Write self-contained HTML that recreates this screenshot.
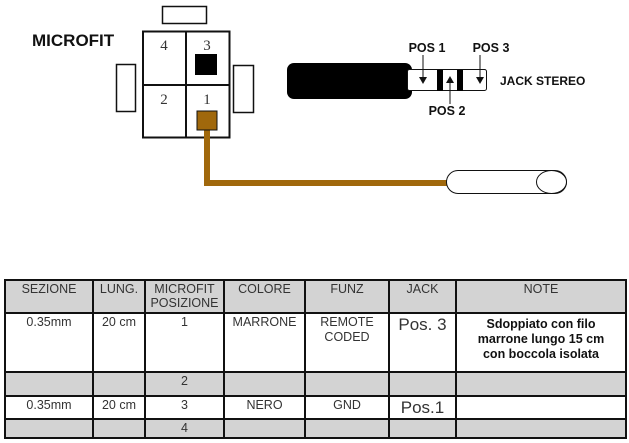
<!DOCTYPE html>
<html><head><style>
body{margin:0;width:629px;height:443px;background:#fff;position:relative;overflow:hidden;font-family:"Liberation Sans",sans-serif}
.a{position:absolute}
table{position:absolute;left:4px;top:279px;border-collapse:collapse;table-layout:fixed;font-size:12.5px;color:#333}
td{border:2px solid #111;text-align:center;vertical-align:top;padding:1px 0 0 0;line-height:15px;overflow:hidden}
.g td{background:#d3d3d3}
</style></head><body>
<svg class="a" style="left:0;top:0" width="629" height="270">
<text x="32" y="46" font-family="Liberation Sans" font-weight="bold" font-size="17" fill="#111">MICROFIT</text>
<rect x="162.5" y="6.5" width="44" height="17" fill="#fff" stroke="#111" stroke-width="1.5"/>
<rect x="116.5" y="64.5" width="19" height="47" fill="#fff" stroke="#111" stroke-width="1.5"/>
<rect x="233.5" y="65.5" width="20" height="47" fill="#fff" stroke="#111" stroke-width="1.5"/>
<rect x="143" y="31.5" width="86.5" height="106" fill="#fff" stroke="#111" stroke-width="2"/>
<line x1="186" y1="31" x2="186" y2="138" stroke="#111" stroke-width="2"/>
<line x1="143" y1="85" x2="230" y2="85" stroke="#111" stroke-width="2"/>
<g font-family="Liberation Serif" font-size="15" fill="#333" text-anchor="middle">
<text x="164" y="50">4</text><text x="207" y="50">3</text><text x="164" y="104">2</text><text x="207" y="104">1</text></g>
<rect x="195" y="54" width="22" height="21" fill="#000"/>
<polyline points="207,128 207,183 450,183" fill="none" stroke="#a0680c" stroke-width="6"/>
<rect x="197" y="111" width="20" height="19" fill="#a0680c" stroke="#111" stroke-width="1"/>
<rect x="446.5" y="170.5" width="120" height="23" rx="11.5" fill="#fff" stroke="#111" stroke-width="1"/>
<ellipse cx="551.5" cy="182" rx="15" ry="11.5" fill="#fff" stroke="#111" stroke-width="1"/>
<rect x="287" y="63" width="125" height="36" rx="7" fill="#000"/>
<rect x="407.5" y="69.5" width="79" height="21" rx="2" fill="#fff" stroke="#111" stroke-width="1"/>
<rect x="437" y="70" width="6" height="21" fill="#000"/>
<rect x="457" y="70" width="6" height="21" fill="#000"/>
<g font-family="Liberation Sans" font-weight="bold" font-size="12.5" fill="#111" text-anchor="middle">
<text x="427" y="52">POS 1</text><text x="491" y="52">POS 3</text><text x="447" y="115">POS 2</text></g>
<text x="500" y="85" font-family="Liberation Sans" font-weight="bold" font-size="12" fill="#111">JACK STEREO</text>
<line x1="423" y1="55" x2="423" y2="80" stroke="#111"/><polygon points="419,77 427,77 423,84" fill="#111"/>
<line x1="480" y1="55" x2="480" y2="80" stroke="#111"/><polygon points="476,77 484,77 480,84" fill="#111"/>
<line x1="450" y1="78" x2="450" y2="104" stroke="#111"/><polygon points="446,83 454,83 450,76" fill="#111"/>
</svg>
<table>
<colgroup><col style="width:88px"><col style="width:52px"><col style="width:79px"><col style="width:81px"><col style="width:84px"><col style="width:67px"><col style="width:170px"></colgroup>
<tr class="g" style="height:33px"><td>SEZIONE</td><td>LUNG.</td><td style="line-height:14px">MICROFIT<br>POSIZIONE</td><td>COLORE</td><td>FUNZ</td><td>JACK</td><td>NOTE</td></tr>
<tr style="height:59px"><td>0.35mm</td><td>20 cm</td><td>1</td><td>MARRONE</td><td>REMOTE<br>CODED</td><td style="font-size:17px;line-height:19px">Pos. 3</td><td style="font-weight:bold;color:#111;padding-top:3px">Sdoppiato con filo<br>marrone lungo 15 cm<br>con boccola isolata</td></tr>
<tr class="g" style="height:24px"><td></td><td></td><td>2</td><td></td><td></td><td></td><td></td></tr>
<tr style="height:23px"><td>0.35mm</td><td>20 cm</td><td>3</td><td>NERO</td><td>GND</td><td style="font-size:17px;line-height:20px">Pos.1</td><td></td></tr>
<tr class="g" style="height:19px"><td></td><td></td><td>4</td><td></td><td></td><td></td><td></td></tr>
</table>
</body></html>
